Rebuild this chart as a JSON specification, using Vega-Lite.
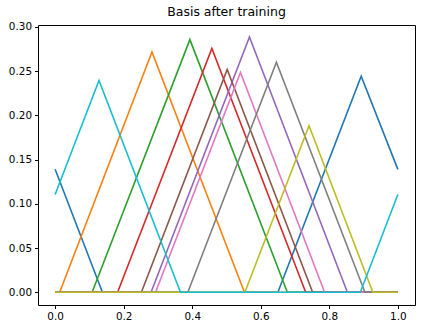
{
  "$schema": "https://vega.github.io/schema/vega-lite/v6.json",
  "autosize": {"type": "none"},
  "padding": {"left": 38, "top": 25, "right": 8, "bottom": 26},
  "width": 377,
  "height": 280,
  "background": "white",
  "title": {"text": "Basis after training", "font": "DejaVu Sans", "fontSize": 12.5, "fontWeight": "normal", "color": "#000", "offset": 3},
  "config": {
    "view": {"stroke": "#000", "strokeWidth": 1},
    "axis": {"grid": false, "domain": false, "tickColor": "#000", "tickSize": 3.5, "labelFont": "DejaVu Sans", "labelFontSize": 10.4, "labelColor": "#000", "labelPadding": 3, "title": null}
  },
  "data": {"values": [
    {"s":"s0","x":0,"y":0.139},{"s":"s0","x":0.138,"y":0},{"s":"s0","x":0.650,"y":0},{"s":"s0","x":0.893,"y":0.2444},{"s":"s0","x":1.0,"y":0.139},
    {"s":"s1","x":0,"y":0},{"s":"s1","x":0.0133,"y":0},{"s":"s1","x":0.2825,"y":0.2718},{"s":"s1","x":0.5523,"y":0},{"s":"s1","x":1,"y":0},
    {"s":"s2","x":0,"y":0},{"s":"s2","x":0.108,"y":0},{"s":"s2","x":0.3932,"y":0.2857},{"s":"s2","x":0.6775,"y":0},{"s":"s2","x":1,"y":0},
    {"s":"s3","x":0,"y":0},{"s":"s3","x":0.1823,"y":0},{"s":"s3","x":0.4573,"y":0.2756},{"s":"s3","x":0.7310,"y":0},{"s":"s3","x":1,"y":0},
    {"s":"s4","x":0,"y":0},{"s":"s4","x":0.2799,"y":0},{"s":"s4","x":0.567,"y":0.2887},{"s":"s4","x":0.8527,"y":0},{"s":"s4","x":1,"y":0},
    {"s":"s5","x":0,"y":0},{"s":"s5","x":0.2517,"y":0},{"s":"s5","x":0.502,"y":0.2519},{"s":"s5","x":0.7513,"y":0},{"s":"s5","x":1,"y":0},
    {"s":"s6","x":0,"y":0},{"s":"s6","x":0.293,"y":0},{"s":"s6","x":0.5408,"y":0.2485},{"s":"s6","x":0.7862,"y":0},{"s":"s6","x":1,"y":0},
    {"s":"s7","x":0,"y":0},{"s":"s7","x":0.3872,"y":0},{"s":"s7","x":0.6456,"y":0.2602},{"s":"s7","x":0.9039,"y":0},{"s":"s7","x":1,"y":0},
    {"s":"s8","x":0,"y":0},{"s":"s8","x":0.5537,"y":0},{"s":"s8","x":0.7408,"y":0.1883},{"s":"s8","x":0.927,"y":0},{"s":"s8","x":1,"y":0},
    {"s":"s9","x":0,"y":0.1105},{"s":"s9","x":0.128,"y":0.2395},{"s":"s9","x":0.3657,"y":0},{"s":"s9","x":0.8905,"y":0},{"s":"s9","x":1,"y":0.1105}
  ]},
  "mark": {"type": "line", "strokeWidth": 1.6, "clip": true},
  "encoding": {
    "x": {"field": "x", "type": "quantitative", "scale": {"domain": [-0.05, 1.05], "nice": false, "zero": false},
          "axis": {"values": [0, 0.2, 0.4, 0.6, 0.8, 1.0], "format": ".1f"}},
    "y": {"field": "y", "type": "quantitative", "scale": {"domain": [-0.0144, 0.3022], "nice": false, "zero": false},
          "axis": {"values": [0, 0.05, 0.1, 0.15, 0.2, 0.25, 0.3], "format": ".2f"}},
    "color": {"field": "s", "type": "nominal", "scale": {"scheme": "category10"}, "legend": null}
  }
}
